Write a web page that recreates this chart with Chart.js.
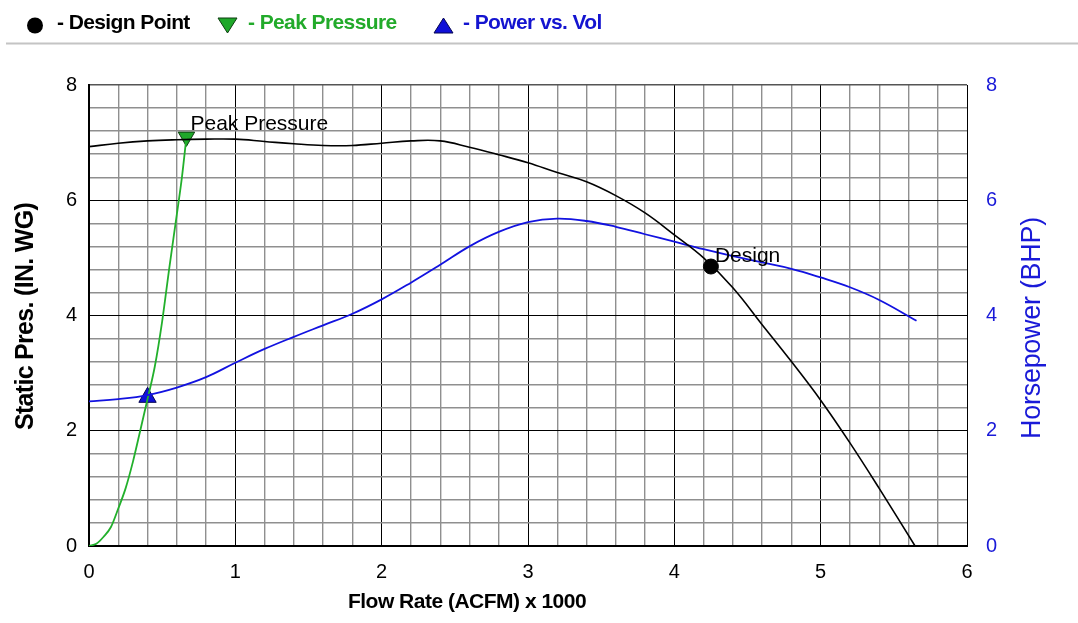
<!DOCTYPE html>
<html>
<head>
<meta charset="utf-8">
<script src="https://cdn.jsdelivr.net/npm/chart.js@4.4.1/dist/chart.umd.min.js"></script>
<style>
  body { margin: 0; background: #fff; font-family: "Liberation Sans", Arial, sans-serif; }
  #wrap { position: relative; width: 1078px; height: 623px; }
  #legend { position: absolute; left: 0; top: 0; width: 1078px; height: 50px; }
  #legend span { position: absolute; top: 10px; line-height: 24px; font-size: 21px; font-weight: bold; letter-spacing: -0.6px; white-space: nowrap; }
</style>
</head>
<body>
<div id="wrap">
  <canvas id="fanChart"></canvas>
  <div id="legend">
    <svg width="1078" height="50" style="position:absolute;left:0;top:0">
      <circle cx="35" cy="25.5" r="8" fill="#000"/>
      <polygon points="218,18 237,18 227.5,33" fill="#1fa82a" stroke="#0d3d10" stroke-width="1"/>
      <polygon points="434,33 453,33 443.5,18" fill="#1010d8" stroke="#050550" stroke-width="1"/>
      <rect x="6" y="42.5" width="1072" height="2" fill="#c4c4c4"/>
    </svg>
    <span style="left:57px;color:#000">- Design Point</span>
    <span style="left:248px;color:#22aa2a">- Peak Pressure</span>
    <span style="left:463px;color:#1414d0">- Power vs. Vol</span>
  </div>
</div>
<script>
// static pressure curve (IN. WG) vs flow (ACFM x 1000)
const pressureX = [0, 0.2, 0.4, 0.6, 0.8, 1.0, 1.2, 1.4, 1.6, 1.8, 2.0, 2.2, 2.4, 2.6, 2.8, 3.0, 3.2, 3.4, 3.6, 3.8, 4.0, 4.2, 4.4, 4.6, 4.8, 5.0, 5.2, 5.4, 5.645];
const pressureY = [6.93, 6.99, 7.03, 7.05, 7.06, 7.06, 7.02, 6.98, 6.95, 6.95, 6.99, 7.03, 7.03, 6.92, 6.79, 6.65, 6.48, 6.32, 6.08, 5.78, 5.40, 5.00, 4.48, 3.84, 3.20, 2.53, 1.79, 1.00, 0];

// horsepower curve (BHP)
const powerX = [0, 0.2, 0.4, 0.6, 0.8, 1.0, 1.2, 1.4, 1.6, 1.8, 2.0, 2.2, 2.4, 2.6, 2.8, 3.0, 3.2, 3.4, 3.6, 3.8, 4.0, 4.2, 4.4, 4.6, 4.8, 5.0, 5.2, 5.4, 5.655];
const powerY = [2.51, 2.55, 2.62, 2.75, 2.93, 3.18, 3.42, 3.63, 3.83, 4.03, 4.28, 4.57, 4.88, 5.20, 5.45, 5.62, 5.68, 5.64, 5.54, 5.41, 5.28, 5.15, 5.03, 4.92, 4.81, 4.66, 4.49, 4.27, 3.91];

// peak pressure curve
const peakX = [0, 0.05, 0.1, 0.15, 0.2, 0.25, 0.3, 0.35, 0.4, 0.45, 0.5, 0.55, 0.6, 0.636, 0.666];
const peakY = [0, 0.04, 0.16, 0.33, 0.65, 1.0, 1.46, 2.0, 2.55, 3.12, 3.9, 4.85, 5.75, 6.42, 7.1];

// markers
const designPointX = [4.25];
const designPointY = [4.85];
const peakPointX = [0.666];
const peakPointY = [7.1];
const powerPointX = [0.4];
const powerPointY = [2.58];

const xTicks = [0, 1, 2, 3, 4, 5, 6];
const yTicks = [0, 2, 4, 6, 8];

const FONT = '"Liberation Sans", Arial, sans-serif';
const BLUE = '#1212e0';
const GREEN = '#22b02c';

const pts = (xs, ys) => xs.map((x, i) => ({ x: x, y: ys[i] }));
const isMult = (v, step) => {
  const r = Math.round(v * 1000) / 1000;
  return Math.abs(r / step - Math.round(r / step)) < 1e-6;
};

const labelsPlugin = {
  id: 'labelsPlugin',
  afterDatasetsDraw(chart) {
    const { ctx, scales: { x, y } } = chart;
    ctx.save();
    ctx.font = '21px ' + FONT;
    ctx.fillStyle = '#000';
    ctx.textAlign = 'left';
    ctx.textBaseline = 'alphabetic';
    ctx.fillText('Peak Pressure', x.getPixelForValue(peakPointX[0]) + 4, y.getPixelForValue(peakPointY[0]) - 7);
    ctx.fillText('Design', x.getPixelForValue(designPointX[0]) + 4, y.getPixelForValue(designPointY[0]) - 5);
    ctx.restore();
  },
  afterDraw(chart) {
    const { ctx, chartArea } = chart;
    ctx.save();
    ctx.textAlign = 'center';
    ctx.textBaseline = 'alphabetic';

    // left axis title
    ctx.fillStyle = '#000';
    ctx.font = 'bold 25px ' + FONT;
    ctx.letterSpacing = '-0.7px';
    ctx.translate(33, (chartArea.top + chartArea.bottom) / 2 + 1);
    ctx.rotate(-Math.PI / 2);
    ctx.fillText('Static Pres. (IN. WG)', 0, 0);
    ctx.setTransform(1, 0, 0, 1, 0, 0);

    // right axis title
    ctx.fillStyle = '#1a1ad8';
    ctx.font = '27px ' + FONT;
    ctx.letterSpacing = '-0.3px';
    ctx.translate(1040, 328);
    ctx.rotate(-Math.PI / 2);
    ctx.fillText('Horsepower (BHP)', 0, 0);
    ctx.setTransform(1, 0, 0, 1, 0, 0);

    // bottom title
    ctx.fillStyle = '#000';
    ctx.font = 'bold 21px ' + FONT;
    ctx.letterSpacing = '-0.5px';
    ctx.fillText('Flow Rate (ACFM) x 1000', 467, 608);
    ctx.restore();
  }
};

const ctx = document.getElementById('fanChart').getContext('2d');
new Chart(ctx, {
  type: 'line',
  data: {
    datasets: [
      {
        label: 'Static Pressure',
        data: pts(pressureX, pressureY),
        borderColor: '#000',
        borderWidth: 1.6,
        pointRadius: 0,
        tension: 0.4,
        yAxisID: 'y'
      },
      {
        label: 'Horsepower',
        data: pts(powerX, powerY),
        borderColor: BLUE,
        borderWidth: 1.8,
        pointRadius: 0,
        tension: 0.4,
        yAxisID: 'y1'
      },
      {
        label: 'Peak Pressure Curve',
        data: pts(peakX, peakY),
        borderColor: GREEN,
        borderWidth: 1.8,
        pointRadius: 0,
        cubicInterpolationMode: 'monotone',
        yAxisID: 'y'
      },
      {
        label: 'Design Point',
        data: pts(designPointX, designPointY),
        showLine: false,
        pointStyle: 'circle',
        pointRadius: 7.5,
        pointBackgroundColor: '#000',
        pointBorderColor: '#000',
        pointBorderWidth: 1,
        yAxisID: 'y'
      },
      {
        label: 'Peak Pressure',
        data: pts(peakPointX, peakPointY),
        showLine: false,
        pointStyle: 'triangle',
        rotation: 180,
        pointRadius: 9.5,
        pointBackgroundColor: '#1fa82a',
        pointBorderColor: '#0d3d10',
        pointBorderWidth: 1,
        yAxisID: 'y'
      },
      {
        label: 'Power vs. Vol',
        data: pts(powerPointX, powerPointY),
        showLine: false,
        pointStyle: 'triangle',
        pointRadius: 10,
        pointBackgroundColor: '#1010d8',
        pointBorderColor: '#050550',
        pointBorderWidth: 1,
        yAxisID: 'y1'
      }
    ]
  },
  options: {
    responsive: true,
    maintainAspectRatio: false,
    animation: false,
    layout: { padding: { top: 85, left: 0, right: 0, bottom: 0 } },
    plugins: {
      legend: { display: false },
      tooltip: { enabled: false }
    },
    scales: {
      x: {
        type: 'linear',
        min: xTicks[0],
        max: xTicks[xTicks.length - 1],
        afterFit: s => { s.height = 77; },
        ticks: {
          stepSize: 0.2,
          autoSkip: false,
          maxRotation: 0,
          padding: 14,
          color: '#000',
          font: { family: FONT, size: 20 },
          callback: v => (isMult(v, 1) ? String(Math.round(v)) : '')
        },
        grid: {
          drawTicks: false,
          lineWidth: c => (isMult(c.tick.value, 1) ? 1 : 1.4),
          color: c => (isMult(c.tick.value, 1) ? '#000' : '#8f8f8f')
        },
        border: { color: '#000', width: 2 }
      },
      y: {
        type: 'linear',
        position: 'left',
        min: yTicks[0],
        max: yTicks[yTicks.length - 1],
        afterFit: s => { s.width = 89; },
        ticks: {
          stepSize: 0.4,
          autoSkip: false,
          padding: 12,
          color: '#000',
          font: { family: FONT, size: 20 },
          callback: v => (isMult(v, 2) ? String(Math.round(v)) : '')
        },
        grid: {
          drawTicks: false,
          lineWidth: c => (isMult(c.tick.value, 2) && c.tick.value < 8 ? 1 : 1.4),
          color: c => (isMult(c.tick.value, 2) ? (c.tick.value >= 8 ? '#555' : '#000') : '#8f8f8f')
        },
        border: { color: '#000', width: 2 }
      },
      y1: {
        type: 'linear',
        position: 'right',
        min: yTicks[0],
        max: yTicks[yTicks.length - 1],
        afterFit: s => { s.width = 111; },
        ticks: {
          stepSize: 2,
          padding: 19,
          color: '#1a1ad8',
          font: { family: FONT, size: 20 }
        },
        grid: { display: false, drawTicks: false },
        border: { display: false }
      }
    }
  },
  plugins: [labelsPlugin]
});
</script>
</body>
</html>
